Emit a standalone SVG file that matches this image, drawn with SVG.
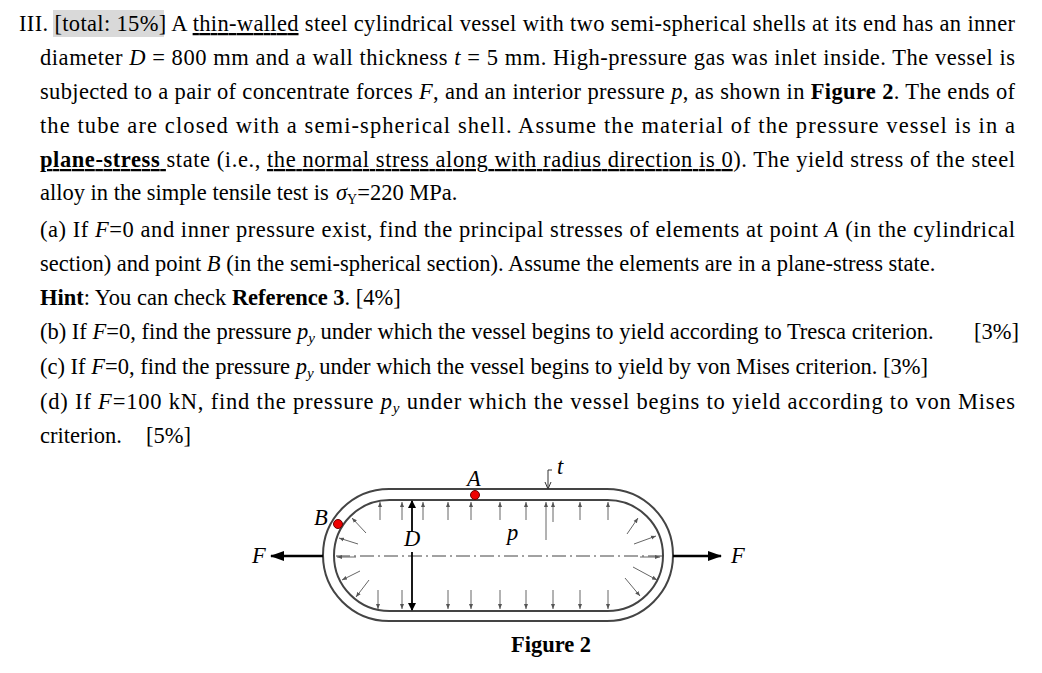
<svg xmlns="http://www.w3.org/2000/svg" width="1042" height="673" viewBox="0 0 1042 673">
<style>
text{font-family:"Liberation Serif","Times New Roman",serif;font-size:22.5px;fill:#000}
.i{font-style:italic}.b{font-weight:bold}
.w{fill:none;stroke:#444;stroke-width:2}
.pa{stroke:#666;stroke-width:1;marker-end:url(#sa)}
</style>
<defs>
<marker id="sa" markerWidth="6" markerHeight="6" refX="5" refY="3" orient="auto" markerUnits="userSpaceOnUse"><path d="M0,1 L5,3 L0,5z" fill="#555"/></marker>
<marker id="ba" markerWidth="14" markerHeight="10" refX="13" refY="5" orient="auto" markerUnits="userSpaceOnUse"><path d="M0,0 L14,5 L0,10z" fill="#000"/></marker>
<marker id="da" markerWidth="8" markerHeight="10" refX="7" refY="4" orient="auto" markerUnits="userSpaceOnUse"><path d="M0,0 L8,4 L0,8z" fill="#000"/></marker>
</defs>
<rect width="1042" height="673" fill="#fff"/>
<rect x="53" y="10" width="111" height="27" fill="#d9d9d9"/>
<g id="text">
<text x="19" y="31" textLength="996" lengthAdjust="spacing">III. [total: 15%] A <tspan text-decoration="underline">thin-walled</tspan> steel cylindrical vessel with two semi-spherical shells at its end has an inner</text>
<text x="40" y="65" textLength="975" lengthAdjust="spacing">diameter <tspan class="i">D</tspan> = 800 mm and a wall thickness <tspan class="i">t</tspan> = 5 mm. High-pressure gas was inlet inside. The vessel is</text>
<text x="40" y="99" textLength="975" lengthAdjust="spacing">subjected to a pair of concentrate forces <tspan class="i">F</tspan>, and an interior pressure <tspan class="i">p</tspan>, as shown in <tspan class="b">Figure 2</tspan>. The ends of</text>
<text x="40" y="133" textLength="975" lengthAdjust="spacing">the tube are closed with a semi-spherical shell. Assume the material of the pressure vessel is in a</text>
<text x="40" y="167" textLength="975" lengthAdjust="spacing"><tspan class="b" text-decoration="underline">plane-stress </tspan>state (i.e., <tspan text-decoration="underline">the normal stress along with radius direction is 0</tspan>). The yield stress of the steel</text>
<text x="40" y="200">alloy in the simple tensile test is <tspan x="336" class="i">σ</tspan><tspan font-size="14" dy="4">Y</tspan><tspan dy="-4">=220 MPa.</tspan></text>
<text x="40" y="237" textLength="975" lengthAdjust="spacing">(a) If <tspan class="i">F</tspan>=0 and inner pressure exist, find the principal stresses of elements at point <tspan class="i">A</tspan> (in the cylindrical</text>
<text x="40" y="271">section) and point <tspan class="i">B</tspan> (in the semi-spherical section). Assume the elements are in a plane-stress state.</text>
<text x="40" y="305"><tspan class="b">Hint</tspan>: You can check <tspan class="b">Reference 3</tspan>. [4%]</text>
<text x="40" y="339">(b) If <tspan class="i">F</tspan>=0, find the pressure <tspan class="i">p</tspan><tspan class="i" font-size="15" dy="4">y</tspan><tspan dy="-4"> under which the vessel begins to yield according to Tresca criterion.</tspan><tspan x="974">[3%]</tspan></text>
<text x="40" y="374">(c) If <tspan class="i">F</tspan>=0, find the pressure <tspan class="i">p</tspan><tspan class="i" font-size="15" dy="4">y</tspan><tspan dy="-4"> under which the vessel begins to yield by von Mises criterion. [3%]</tspan></text>
<text x="40" y="409" textLength="975" lengthAdjust="spacing">(d) If <tspan class="i">F</tspan>=100 kN, find the pressure <tspan class="i">p</tspan><tspan class="i" font-size="15" dy="4">y</tspan><tspan dy="-4"> under which the vessel begins to yield according to von Mises</tspan></text>
<text x="40" y="443">criterion.<tspan x="146">[5%]</tspan></text>
</g>
<g id="vessel">
<rect class="w" x="323" y="489" width="350" height="132" rx="66"/>
<rect class="w" x="334" y="500" width="329" height="111" rx="55.5"/>
<line x1="336" y1="556" x2="662" y2="556" stroke="#444" stroke-width="1" stroke-dasharray="14,4,2,4"/>
</g>
<g id="pressure">
<line class="pa" x1="380" y1="520" x2="380" y2="502"/><line class="pa" x1="402" y1="520" x2="402" y2="502"/><line class="pa" x1="423" y1="520" x2="423" y2="502"/><line class="pa" x1="448" y1="520" x2="448" y2="502"/><line class="pa" x1="471" y1="520" x2="471" y2="502"/><line class="pa" x1="500" y1="520" x2="500" y2="502"/><line class="pa" x1="526" y1="520" x2="526" y2="502"/><line class="pa" x1="546" y1="540" x2="546" y2="502"/><line class="pa" x1="553" y1="522" x2="553" y2="502"/><line class="pa" x1="580" y1="520" x2="580" y2="502"/><line class="pa" x1="608" y1="520" x2="608" y2="502"/>
<line class="pa" x1="378" y1="590" x2="378" y2="609"/><line class="pa" x1="402" y1="590" x2="402" y2="609"/><line class="pa" x1="448" y1="590" x2="448" y2="609"/><line class="pa" x1="471" y1="590" x2="471" y2="609"/><line class="pa" x1="500" y1="590" x2="500" y2="609"/><line class="pa" x1="526" y1="590" x2="526" y2="609"/><line class="pa" x1="553" y1="590" x2="553" y2="609"/><line class="pa" x1="580" y1="590" x2="580" y2="609"/><line class="pa" x1="608" y1="590" x2="608" y2="609"/>
<line class="pa" x1="366" y1="533" x2="352" y2="518"/><line class="pa" x1="358" y1="544" x2="339" y2="538"/><line class="pa" x1="356" y1="557" x2="337" y2="557"/><line class="pa" x1="360" y1="571" x2="342" y2="580"/><line class="pa" x1="369" y1="580" x2="356" y2="597"/>
<line class="pa" x1="627" y1="534" x2="638" y2="518"/><line class="pa" x1="634" y1="544" x2="656" y2="536"/><line class="pa" x1="640" y1="557" x2="660" y2="557"/><line class="pa" x1="633" y1="567" x2="657" y2="580"/><line class="pa" x1="625" y1="578" x2="640" y2="596"/>
</g>
<g id="connectors">
<line x1="323" y1="556" x2="271" y2="556" stroke="#000" stroke-width="2.5" marker-end="url(#ba)"/>
<line x1="673" y1="556" x2="721" y2="556" stroke="#000" stroke-width="2.5" marker-end="url(#ba)"/>
<line x1="412" y1="532" x2="412" y2="501" stroke="#000" stroke-width="1.8" marker-end="url(#da)"/>
<line x1="412" y1="552" x2="412" y2="610" stroke="#000" stroke-width="1.8" marker-end="url(#da)"/>
<path d="M552,470 L548,470 L548,488" fill="none" stroke="#333" stroke-width="1"/>
<path d="M545,482 L548,489 L551,482" fill="none" stroke="#333" stroke-width="1"/>
</g>
<g id="points">
<circle cx="475" cy="495" r="4.5" fill="#e00" stroke="#600" stroke-width="1"/>
<circle cx="338" cy="524" r="4.5" fill="#e00" stroke="#600" stroke-width="1"/>
</g>
<g id="labels">
<text class="i" x="467" y="486" font-size="19">A</text>
<text class="i" x="314" y="525" font-size="19">B</text>
<text class="i" x="404" y="546" font-size="18">D</text>
<text class="i" x="507" y="540" font-size="19">p</text>
<text class="i" x="557" y="474" font-size="18">t</text>
<text class="i" x="252" y="563" font-size="19">F</text>
<text class="i" x="731" y="563" font-size="19">F</text>
<text class="b" x="551" y="652" text-anchor="middle" font-size="21">Figure 2</text>
</g>
</svg>
